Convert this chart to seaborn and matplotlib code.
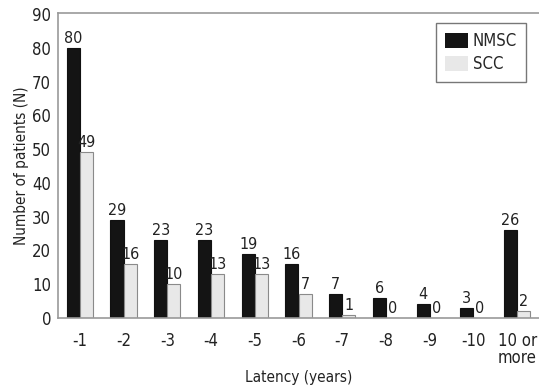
import pandas as pd
import numpy as np
import matplotlib
matplotlib.use('Agg')
import matplotlib.pyplot as plt
import seaborn as sns

categories = ['-1', '-2', '-3', '-4', '-5', '-6', '-7', '-8', '-9', '-10', '10 or\nmore']
nmsc = [80, 29, 23, 23, 19, 16, 7, 6, 4, 3, 26]
scc = [49, 16, 10, 13, 13, 7, 1, 0, 0, 0, 2]

df = pd.DataFrame({
    'latency': categories * 2,
    'count': nmsc + scc,
    'group': ['NMSC'] * len(categories) + ['SCC'] * len(categories),
})

sns.set_style('white')
plt.rcParams['font.family'] = ['DejaVu Sans']
plt.rcParams['font.stretch'] = 'condensed'

fig = plt.figure(figsize=(5.39, 3.88), dpi=100)
ax = fig.add_axes([58 / 539, 1 - 318 / 388, 1 - 58 / 539, (318 - 13) / 388])

sns.barplot(data=df, x='latency', y='count', hue='group',
            palette={'NMSC': '#141414', 'SCC': '#e8e8e8'},
            width=0.6, gap=0, saturation=1, ax=ax, legend=True)

# edges: black bars dark, light bars grey outline
for cont, ec in zip(ax.containers, ['#111111', '#8a8a8a']):
    for bar in cont:
        bar.set_edgecolor(ec)
        bar.set_linewidth(0.8)
    ax.bar_label(cont, padding=1.5, fontsize=11.5, color='#222222')

ax.set_ylim(0, 90.3)
ax.set_xlim(-0.5, 10.43)
ax.set_yticks(range(0, 91, 10))
ax.set_xlabel('Latency (years)', fontsize=11, color='#222222', labelpad=2)
ax.set_ylabel('Number of patients (N)', fontsize=11, color='#222222', labelpad=2)
ax.tick_params(axis='both', labelsize=12, colors='#222222', length=0)
ax.tick_params(axis='y', length=3, color='#bbbbbb', direction='out', pad=2)
ax.tick_params(axis='x', pad=10)
for lbl in ax.get_xticklabels():
    lbl.set_linespacing(0.95)
ax.set_xticks(np.arange(-0.5, 10.6, 1), minor=True)
ax.tick_params(axis='x', which='minor', length=3, color='#dddddd', direction='out')

for side in ['left', 'top', 'bottom']:
    ax.spines[side].set_color('#999999')
    ax.spines[side].set_linewidth(1.2)
ax.spines['right'].set_visible(False)

leg = ax.legend(loc='upper right', bbox_to_anchor=(0.973, 0.967), borderaxespad=0,
                fontsize=12, frameon=True, fancybox=False,
                handlelength=1.35, handleheight=1.0, handletextpad=0.3,
                borderpad=0.55, labelspacing=0.3)
leg.get_frame().set_edgecolor('#555555')
leg.get_frame().set_linewidth(1.0)
for h in leg.legend_handles:
    h.set_edgecolor('none')

fig.savefig('out.png', dpi=100)
